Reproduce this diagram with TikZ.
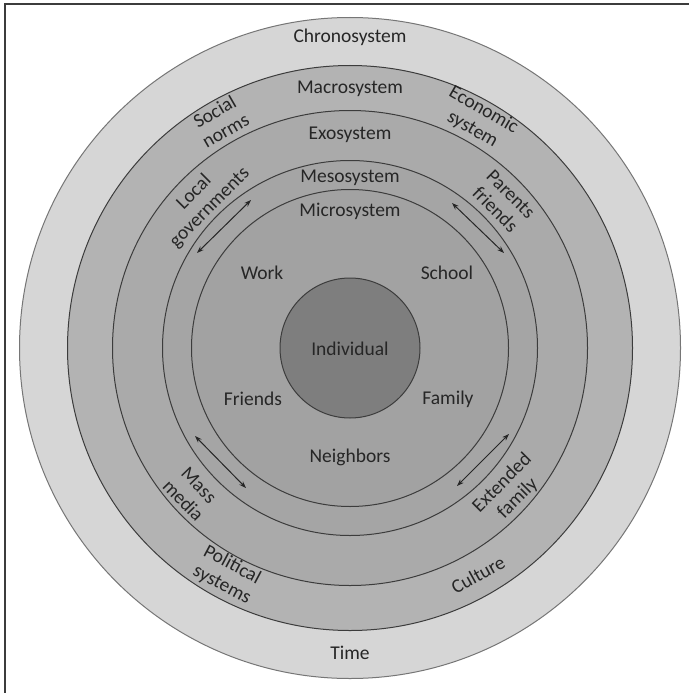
\documentclass[tikz,border=0pt]{standalone}
\usepackage{fontspec}
\setmainfont{Carlito}
\usetikzlibrary{arrows.meta}
\definecolor{ringA}{HTML}{D6D6D6}
\definecolor{ringB}{HTML}{B3B3B3}
\definecolor{ringC}{HTML}{AAAAAA}
\definecolor{ringD}{HTML}{A5A5A5}
\definecolor{ringE}{HTML}{A2A2A2}
\definecolor{coreF}{HTML}{7E7E7E}
\definecolor{edge}{HTML}{3C3C3C}
\definecolor{ink}{HTML}{262626}
\begin{document}
\begin{tikzpicture}[x=1pt,y=-1pt,
  ring/.style={circle,inner sep=0pt,draw=edge,line width=1pt},
  lbl/.style={text=ink,font=\fontsize{19.5}{22}\selectfont,align=center,inner sep=0pt},
  link/.style={{Stealth[length=7pt,width=5pt]}-{Stealth[length=7pt,width=5pt]},line width=1pt,draw=ink}]
\useasboundingbox (0,0) rectangle (689,693);
\fill[white] (0,0) rectangle (689,693);
\draw[line width=2pt,draw=ink!90] (5,693) -- (5,4) -- (689,4);
% rings
\node[ring,fill=ringA,draw=edge!70,minimum size=661pt] (chrono) at (350,348) {};
\node[ring,fill=ringB,minimum size=565pt] (macro) at (350,348) {};
\node[ring,fill=ringC,minimum size=475pt] (exo) at (350,348) {};
\node[ring,fill=ringD,minimum size=375pt] (meso) at (350,348) {};
\node[ring,fill=ringE,minimum size=317pt] (micro) at (350,348) {};
\node[ring,fill=coreF,minimum size=140pt] (indiv) at (350,348) {};
% system titles
\node[lbl] (tChrono) at (350,37) {Chronosystem};
\node[lbl] (tMacro) at (350,89) {Macrosystem};
\node[lbl] (tExo) at (350,135) {Exosystem};
\node[lbl] (tMeso) at (350,178) {Mesosystem};
\node[lbl] (tMicro) at (350,211) {Microsystem};
\node[lbl] (tTime) at (350,653) {Time};
\node[lbl] (tIndiv) at (350,349) {Individual};
% microsystem items
\node[lbl] (work) at (262,273) {Work};
\node[lbl] (school) at (447,273) {School};
\node[lbl] (friends) at (253,399) {Friends};
\node[lbl] (family) at (448,399) {Family};
\node[lbl] (neigh) at (350,457) {Neighbors};
% exosystem items
\node[lbl,rotate=45] (localgov) at (202,200) {Local\\governments};
\node[lbl,rotate=-45] (parents) at (503,202) {Parents\\friends};
\node[lbl,rotate=-46] (mass) at (191,493) {Mass\\media};
\node[lbl,rotate=45] (extended) at (510,491) {Extended\\family};
% macrosystem items
\node[lbl,rotate=30] (social) at (220,121) {Social\\norms};
\node[lbl,rotate=-30] (econ) at (478,120) {Economic\\system};
\node[lbl,rotate=-28] (polit) at (227,575) {Political\\systems};
\node[lbl,rotate=29] (culture) at (478,575) {Culture};
% mesosystem arrows
\coordinate (ulA) at (197,253); \coordinate (ulB) at (251,200);
\coordinate (urA) at (452,203); \coordinate (urB) at (504,253);
\coordinate (llA) at (195,436); \coordinate (llB) at (246,488);
\coordinate (lrA) at (509,434); \coordinate (lrB) at (457,486);
\draw[link] (ulA) -- (ulB);
\draw[link] (urA) -- (urB);
\draw[link] (llA) -- (llB);
\draw[link] (lrA) -- (lrB);
\end{tikzpicture}
\end{document}
